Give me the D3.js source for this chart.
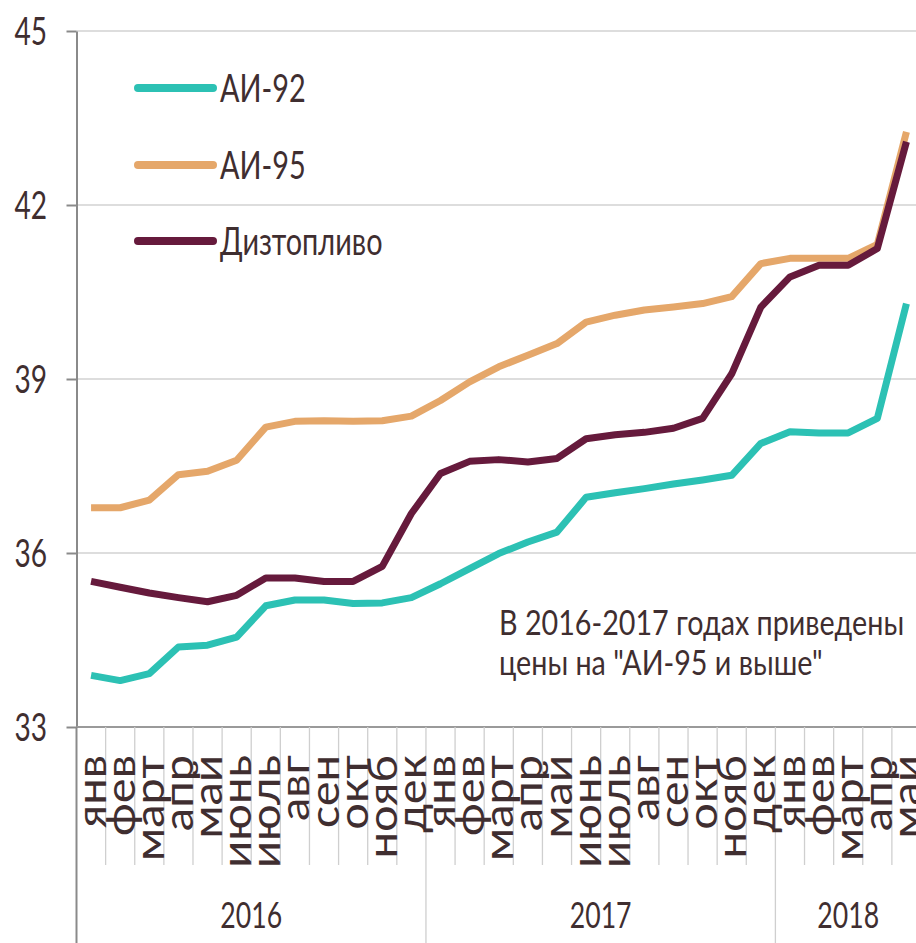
<!DOCTYPE html>
<html>
<head>
<meta charset="utf-8">
<script src="https://cdn.jsdelivr.net/npm/d3@7"></script>
<style>
  body { margin: 0; background: #fff; }
  svg { display: block; }
  text { font-family: Lato, "Open Sans", sans-serif; fill: #3f2e30; }
</style>
</head>
<body>
<div class="display-svg"></div>
<script>
// months for each year
var months2016 = ['янв', 'фев', 'март', 'апр', 'май', 'июнь', 'июль', 'авг', 'сен', 'окт', 'нояб', 'дек'];
var months2017 = ['янв', 'фев', 'март', 'апр', 'май', 'июнь', 'июль', 'авг', 'сен', 'окт', 'нояб', 'дек'];
var months2018 = ['янв', 'фев', 'март', 'апр', 'май'];
var years = ['2016', '2017', '2018'];
var yTicks = [33, 36, 39, 42, 45];

var ai92 = [33.89, 33.80, 33.92, 34.38, 34.41, 34.55, 35.09, 35.19, 35.19, 35.13, 35.14, 35.23,
            35.47, 35.73, 35.99, 36.19, 36.36, 36.96, 37.04, 37.11, 37.19, 37.26, 37.34, 37.89,
            38.09, 38.07, 38.07, 38.32, 40.30];
var ai95 = [36.78, 36.78, 36.91, 37.35, 37.41, 37.60, 38.17, 38.27, 38.28, 38.27, 38.28, 38.36,
            38.63, 38.95, 39.21, 39.41, 39.61, 39.98, 40.10, 40.19, 40.24, 40.30, 40.42, 40.99,
            41.08, 41.08, 41.08, 41.32, 43.26];
var diesel = [35.51, 35.41, 35.31, 35.23, 35.16, 35.27, 35.57, 35.57, 35.51, 35.51, 35.77, 36.68,
              37.37, 37.58, 37.61, 37.57, 37.63, 37.97, 38.04, 38.08, 38.15, 38.32, 39.09, 40.24,
              40.76, 40.96, 40.96, 41.25, 43.09];

var seriesNames = ['АИ-92', 'АИ-95', 'Дизтопливо'];
var seriesColors = ['#2cc1b4', '#e5a76a', '#661a3c'];

var width = 916,
    height = 943,
    plotLeft = 76.5,
    plotRight = 921,
    plotTop = 31,
    plotBottom = 727,
    sx = 0.74; // the reference uses a narrow font

var months = months2016.concat(months2017, months2018);
var yearSizes = [months2016.length, months2017.length, months2018.length];

var svg = d3.select('.display-svg').append('svg')
    .attr('width', width)
    .attr('height', height);

var xScale = d3.scaleBand()
    .domain(d3.range(months.length))
    .range([plotLeft, plotRight])
    .padding(0);

var yScale = d3.scaleLinear()
    .domain([33, 45])
    .range([plotBottom, plotTop]);

// gridlines
svg.append('g').selectAll('line')
    .data(yTicks.filter(d => d > 33))
    .enter().append('line')
    .attr('x1', plotLeft).attr('x2', width)
    .attr('y1', d => yScale(d)).attr('y2', d => yScale(d))
    .style('stroke', '#d2d2d2')
    .style('stroke-width', 1.5);

// y axis
var yAxis = d3.axisLeft(yScale)
    .tickValues(yTicks)
    .tickSize(10)
    .tickSizeOuter(0)
    .tickFormat('');
var yAxisGroup = svg.append('g')
    .attr('transform', 'translate(' + plotLeft + ',0)')
    .call(yAxis);
yAxisGroup.select('.domain').style('stroke', '#8a8a8a').style('stroke-width', 2);
yAxisGroup.selectAll('.tick line').style('stroke', '#8a8a8a').style('stroke-width', 2);

svg.append('g').selectAll('text')
    .data(yTicks)
    .enter().append('text')
    .attr('transform', d => 'translate(47,' + yScale(d) + ') scale(0.72,1)')
    .attr('dy', '0.36em')
    .attr('text-anchor', 'end')
    .style('font-size', '39px')
    .text(d => d);

// bottom axis line
svg.append('line')
    .attr('x1', plotLeft).attr('x2', width)
    .attr('y1', plotBottom).attr('y2', plotBottom)
    .style('stroke', '#9a9a9a')
    .style('stroke-width', 2);

// category separators
var yearStarts = [0];
yearSizes.forEach((n, i) => yearStarts.push(yearStarts[i] + n));

svg.append('g').selectAll('line')
    .data(d3.range(months.length + 1))
    .enter().append('line')
    .attr('x1', i => i < months.length ? xScale(i) : plotRight)
    .attr('x2', i => i < months.length ? xScale(i) : plotRight)
    .attr('y1', plotBottom)
    .attr('y2', i => yearStarts.indexOf(i) >= 0 ? height : 865)
    .style('stroke', i => i === 0 ? '#8a8a8a' : '#cfcfcf')
    .style('stroke-width', i => i === 0 ? 2 : 1.3);

// month labels
svg.append('g').selectAll('text')
    .data(months)
    .enter().append('text')
    .attr('transform', (d, i) => 'translate(' + (xScale(i) + xScale.bandwidth() / 2) + ',755) scale(0.86,1) rotate(-90)')
    .attr('dy', '0.36em')
    .attr('text-anchor', 'end')
    .style('font-size', '47px')
    .text(d => d);

// year labels
svg.append('g').selectAll('text')
    .data(years)
    .enter().append('text')
    .attr('transform', (d, i) => {
      var x0 = xScale(yearStarts[i]);
      var x1 = yearStarts[i + 1] < months.length ? xScale(yearStarts[i + 1]) : plotRight;
      return 'translate(' + ((x0 + x1) / 2) + ',928) scale(' + sx + ',1)';
    })
    .attr('text-anchor', 'middle')
    .style('font-size', '36px')
    .text(d => d);

// lines
var line = d3.line()
    .x((d, i) => xScale(i) + xScale.bandwidth() / 2)
    .y(d => yScale(d));

[ai92, ai95, diesel].forEach((s, k) => {
  svg.append('path')
    .datum(s)
    .attr('d', line)
    .style('fill', 'none')
    .style('stroke', seriesColors[k])
    .style('stroke-width', 7)
    .style('stroke-linejoin', 'round');
});

// legend
var legendY = [88, 165, 241];
seriesNames.forEach((name, k) => {
  svg.append('line')
    .attr('x1', 138).attr('x2', 213)
    .attr('y1', legendY[k]).attr('y2', legendY[k])
    .style('stroke', seriesColors[k])
    .style('stroke-width', 8)
    .style('stroke-linecap', 'round');
  svg.append('text')
    .attr('transform', 'translate(220,' + legendY[k] + ') scale(' + sx + ',1)')
    .attr('dy', '0.36em')
    .style('font-size', '39px')
    .text(name);
});

// note
var note = ['В 2016-2017 годах приведены', 'цены на "АИ-95 и выше"'];
svg.append('g').selectAll('text')
    .data(note)
    .enter().append('text')
    .attr('transform', (d, i) => 'translate(499,' + (635 + i * 40) + ') scale(0.82,1)')
    .style('font-size', '35px')
    .text(d => d);
</script>
</body>
</html>
